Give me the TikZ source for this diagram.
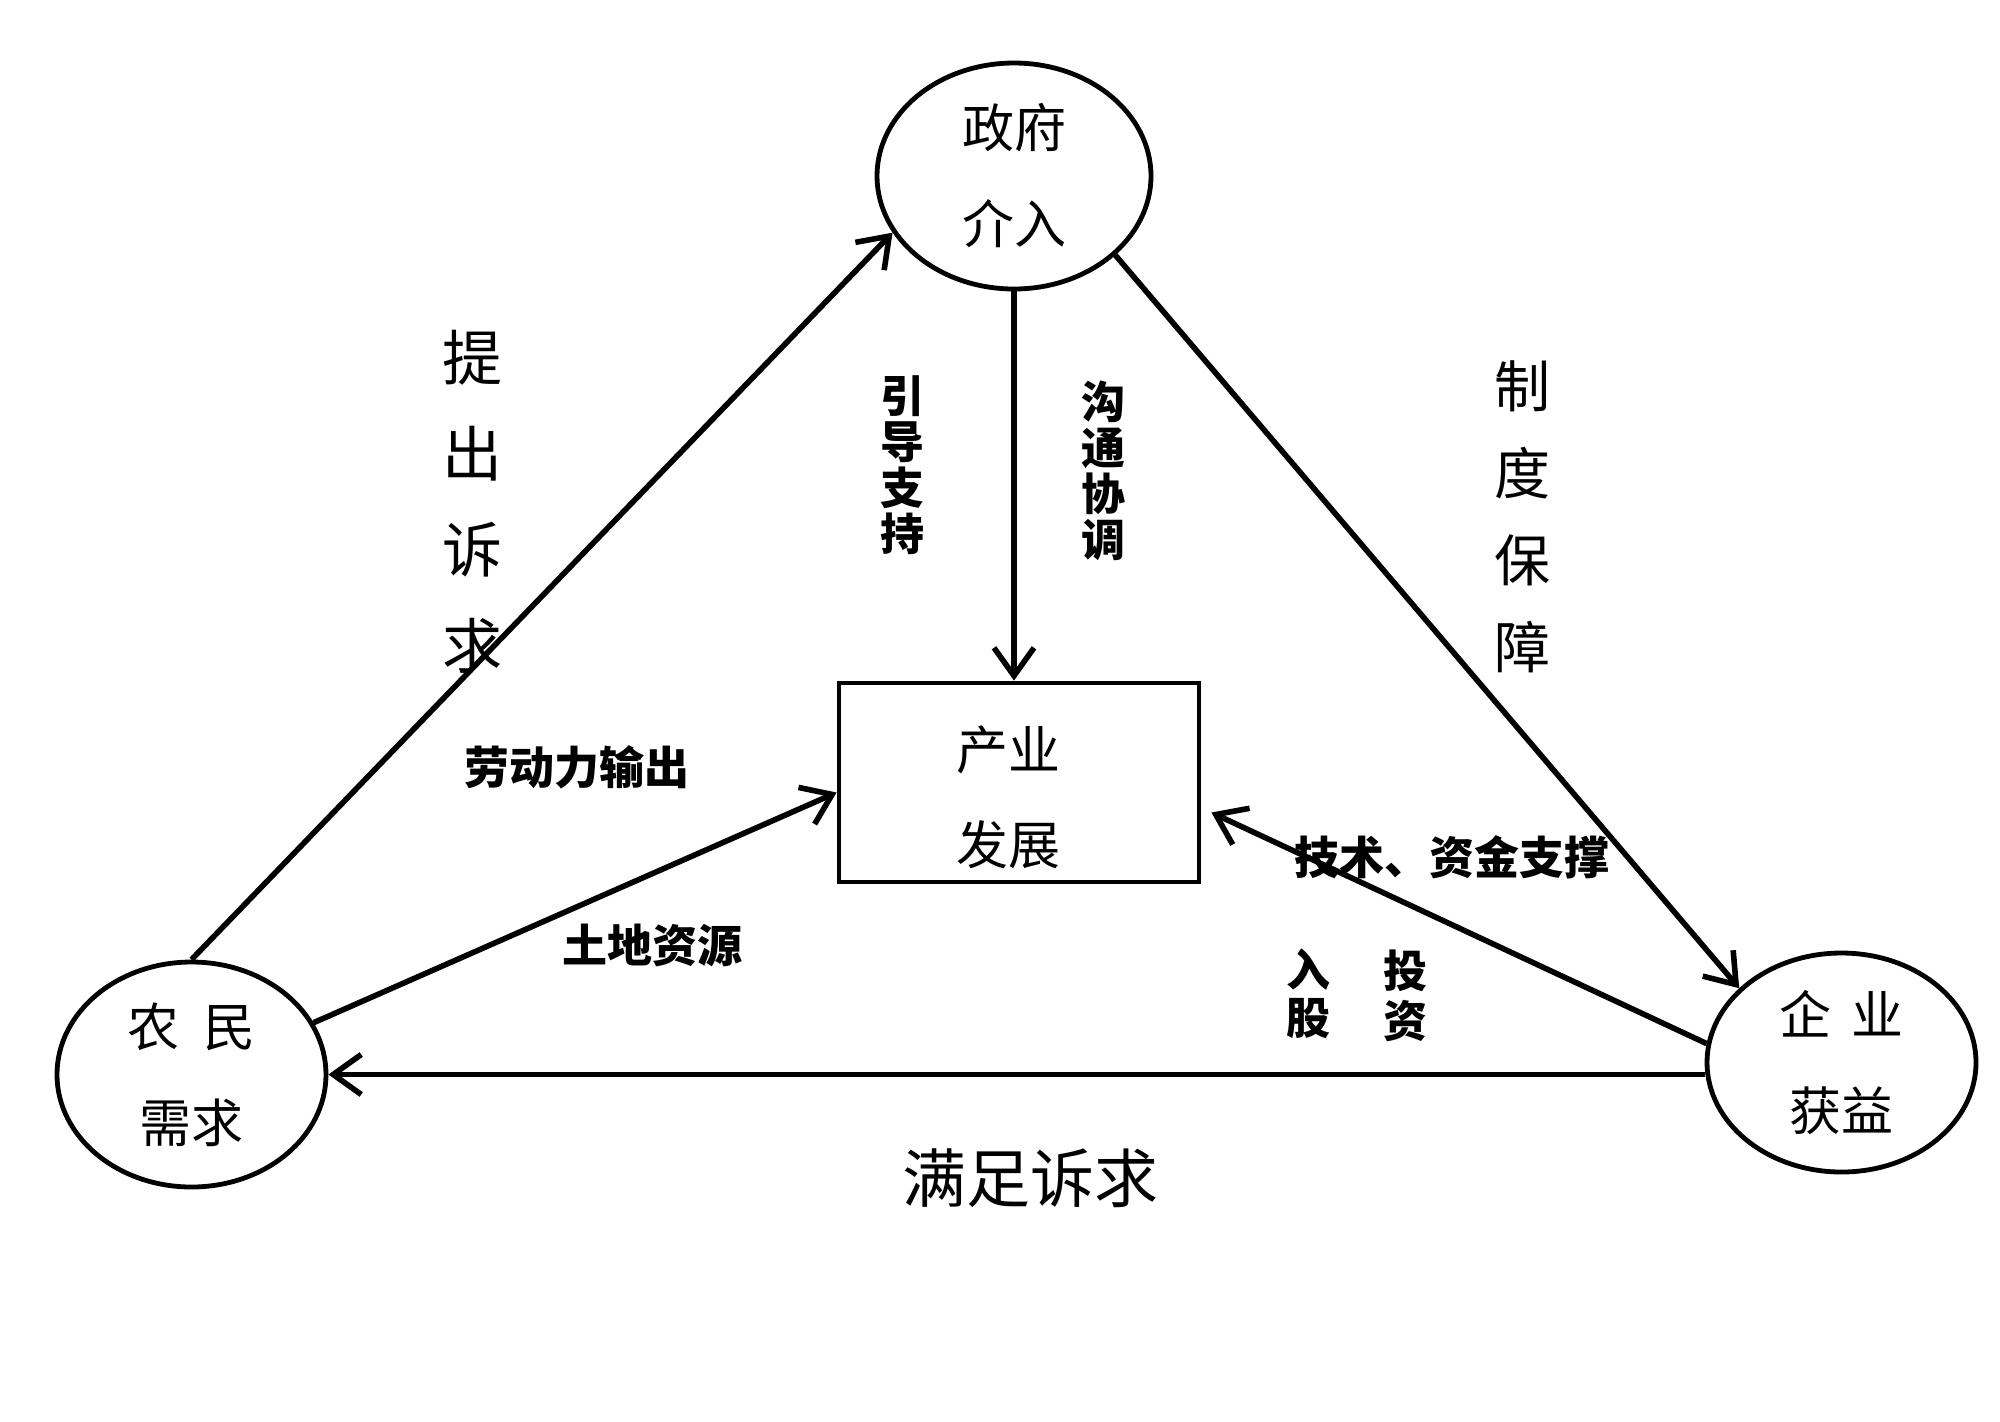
\documentclass[tikz,border=0pt]{standalone}
\usepackage{fontspec}
\newfontfamily\cjk{Noto Sans CJK SC}
\usetikzlibrary{shapes.geometric,arrows.meta}
\begin{document}
\begin{tikzpicture}[x=0.5pt,y=-0.5pt,
  oval/.style={draw, ellipse, line width=2.4pt, inner sep=0pt, align=center,
    font=\cjk\fontsize{26}{48}\selectfont},
  boxnode/.style={draw, rectangle, line width=2.4pt, inner sep=0pt},
  plaintext/.style={inner sep=0pt, align=center},
  lightlab/.style={plaintext, font=\cjk\fontsize{29}{46}\selectfont},
  boldlab/.style={plaintext, font=\cjk\bfseries\fontsize{22}{23}\selectfont},
  conn/.style={line width=2.8pt, -{Straight Barb[length=14pt,width=20pt]}}
]
\useasboundingbox (0,0) rectangle (2000,1421);
\fill[white] (0,0) rectangle (2000,1421);

% main nodes
\node[oval, minimum width=137pt, minimum height=113pt] (zf) at (1014,176) {政府\\介入};
\node[oval, minimum width=134.5pt, minimum height=112.5pt] (nm) at (191.5,1074.5) {农\hspace{0.45em}民\\需求};
\node[oval, minimum width=134.5pt, minimum height=109.5pt] (qy) at (1841.5,1062.5) {企\hspace{0.4em}业\\获益};
\node[boxnode, minimum width=180pt, minimum height=99.5pt] (cy) at (1019,782.5) {};
\node[plaintext, font=\cjk\fontsize{26}{47.5}\selectfont] (cytext) at (1008,797) {产业\\发展};

% connectors
\draw[conn] (nm.north) -- (zf.205);
\draw[conn] (zf.south) -- (zf.south |- cy.north);
\draw[conn] (zf.-38) -- (qy.144);
\draw[conn] (nm.23) -- ([yshift=-5pt]cy.west);
\draw[conn] (qy.172) -- ([yshift=-15pt,xshift=5pt]cy.east);
\draw[conn] (nm.east -| qy.west) -- (nm.east);

% labels
\node[lightlab, font=\cjk\fontsize{30}{48}\selectfont] (l1) at (472,502) {提\\出\\诉\\求};
\node[lightlab, font=\cjk\fontsize{28}{43.5}\selectfont] (l2) at (1522,517) {制\\度\\保\\障};
\node[boldlab] (l3) at (902,465) {引\\导\\支\\持};
\node[boldlab] (l4) at (1103,471) {沟\\通\\协\\调};
\node[boldlab, font=\cjk\bfseries\fontsize{22.5}{23}\selectfont] (l5) at (577,767) {劳动力输出};
\node[boldlab, font=\cjk\bfseries\fontsize{22.5}{23}\selectfont] (l6) at (652,945) {土地资源};
\node[boldlab, font=\cjk\bfseries\fontsize{22.5}{23}\selectfont] (l7) at (1452,857) {技术、资金支撑};
\node[boldlab, font=\cjk\bfseries\fontsize{22}{24}\selectfont] (l8) at (1308,994) {入\\股};
\node[boldlab, font=\cjk\bfseries\fontsize{22}{25}\selectfont] (l9) at (1405,996) {投\\资};
\node[lightlab, font=\cjk\fontsize{32}{40}\selectfont] (l10) at (1030,1178) {满足诉求};
\end{tikzpicture}
\end{document}
